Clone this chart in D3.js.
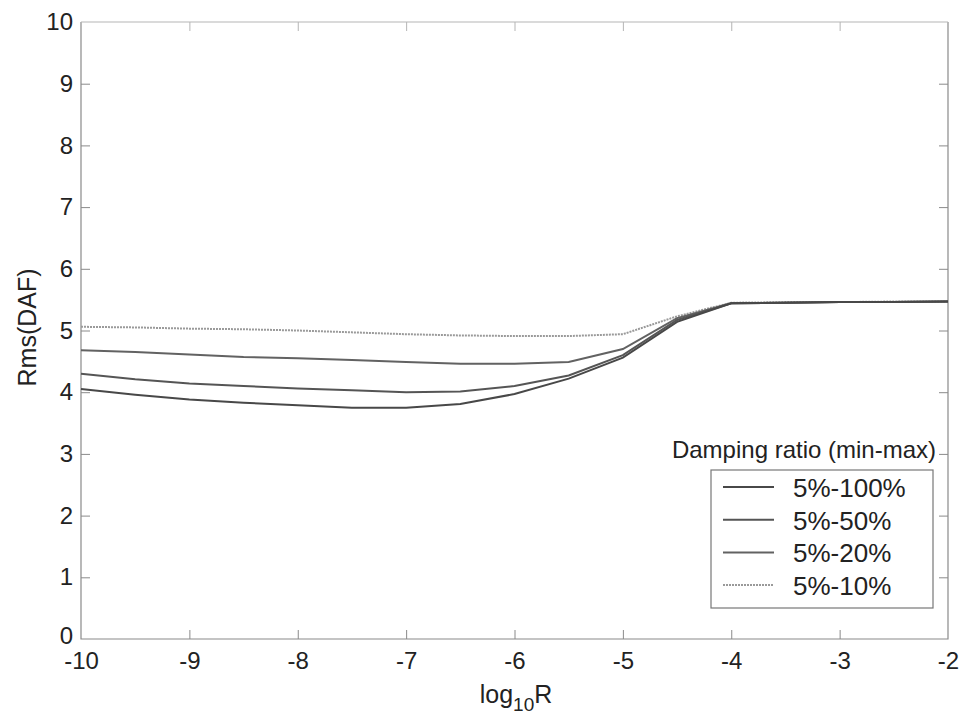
<!DOCTYPE html>
<html>
<head>
<meta charset="utf-8">
<script src="https://cdn.jsdelivr.net/npm/d3@7/dist/d3.min.js"></script>
<style>
  body { margin: 0; background: #fff; }
  text { font-family: "Liberation Sans", Arial, sans-serif; fill: #222; }
</style>
</head>
<body>
<script>
// log10 R sample points
var logR = [-10, -9.5, -9, -8.5, -8, -7.5, -7, -6.5, -6, -5.5, -5, -4.5, -4, -3.5, -3, -2.5, -2]

// Rms(DAF) for each damping ratio range
var s100 = [4.05, 3.96, 3.88, 3.83, 3.79, 3.75, 3.75, 3.81, 3.97, 4.22, 4.56, 5.14, 5.44, 5.45, 5.46, 5.46, 5.47]
var s50  = [4.30, 4.21, 4.14, 4.10, 4.06, 4.03, 4.00, 4.01, 4.10, 4.27, 4.60, 5.17, 5.44, 5.45, 5.46, 5.46, 5.47]
var s20  = [4.68, 4.65, 4.61, 4.57, 4.55, 4.52, 4.49, 4.46, 4.46, 4.49, 4.70, 5.20, 5.44, 5.45, 5.46, 5.46, 5.47]
var s10  = [5.06, 5.05, 5.03, 5.02, 5.00, 4.97, 4.94, 4.92, 4.91, 4.91, 4.94, 5.23, 5.45, 5.46, 5.46, 5.47, 5.47]

var seriesNames = ["5%-100%", "5%-50%", "5%-20%", "5%-10%"]
var xTicks = [-10, -9, -8, -7, -6, -5, -4, -3, -2]
var yTicks = [0, 1, 2, 3, 4, 5, 6, 7, 8, 9, 10]

var series = [
  {name: seriesNames[0], values: s100, color: "#484848", dash: null, w: 2},
  {name: seriesNames[1], values: s50, color: "#555555", dash: null, w: 2},
  {name: seriesNames[2], values: s20, color: "#626262", dash: null, w: 2},
  {name: seriesNames[3], values: s10, color: "#9a9a9a", dash: "2,1", w: 2}
]

var W = 965, H = 721
var margin = {top: 22, right: 17, bottom: 82, left: 81}

var svg = d3.select("body").append("svg")
  .attr("width", W)
  .attr("height", H)

var x = d3.scaleLinear().domain([-10, -2]).range([margin.left, W - margin.right])
var y = d3.scaleLinear().domain([0, 10]).range([H - margin.bottom, margin.top])

var axisColor = "#8a8a8a"
var tickLen = 9
var fmt = d => String(d)   // plain hyphen minus, like the original

// box: left, bottom, right darker, top faint
var x0 = x(-10), x1 = x(-2), y0 = y(0), y1 = y(10)
svg.append("path").attr("d", `M${x0},${y1}V${y0}H${x1}V${y1}`)
  .attr("fill", "none").attr("stroke", axisColor).attr("stroke-width", 1.2)
svg.append("line").attr("x1", x0).attr("x2", x1).attr("y1", y1).attr("y2", y1)
  .attr("stroke", "#b5b5b5").attr("stroke-width", 1)

// bottom & top ticks, inward
var gx = svg.append("g").attr("transform", "translate(0," + y0 + ")")
  .call(d3.axisBottom(x).tickValues(xTicks).tickSizeInner(-tickLen).tickSizeOuter(0).tickPadding(13).tickFormat(fmt))
gx.select(".domain").remove()
gx.selectAll("line").attr("stroke", axisColor)
gx.selectAll("text").attr("font-size", 24).attr("fill", "#222")

var gxt = svg.append("g").attr("transform", "translate(0," + y1 + ")")
  .call(d3.axisTop(x).tickValues(xTicks).tickSizeInner(-tickLen).tickSizeOuter(0).tickFormat(""))
gxt.select(".domain").remove()
gxt.selectAll("line").attr("stroke", "#b5b5b5")

var gy = svg.append("g").attr("transform", "translate(" + x0 + ",0)")
  .call(d3.axisLeft(y).tickValues(yTicks).tickSizeInner(-tickLen).tickSizeOuter(0).tickPadding(8).tickFormat(fmt))
gy.select(".domain").remove()
gy.selectAll("line").attr("stroke", axisColor)
gy.selectAll("text").attr("font-size", 24).attr("fill", "#222")
// the 0 label sits a touch higher so it clears the -10 below it
gy.selectAll(".tick").filter(d => d === 0).select("text").attr("dy", "0.2em")

var gyr = svg.append("g").attr("transform", "translate(" + x1 + ",0)")
  .call(d3.axisRight(y).tickValues(yTicks).tickSizeInner(-tickLen).tickSizeOuter(0).tickFormat(""))
gyr.select(".domain").remove()
gyr.selectAll("line").attr("stroke", axisColor)

// no tick marks on the corners
gx.selectAll(".tick").filter(d => d === -10 || d === -2).select("line").remove()
gxt.selectAll(".tick").filter(d => d === -10 || d === -2).select("line").remove()
gy.selectAll(".tick").filter(d => d === 0 || d === 10).select("line").remove()
gyr.selectAll(".tick").filter(d => d === 0 || d === 10).select("line").remove()

// lines
var line = d3.line()
  .x((d, i) => x(logR[i]))
  .y(d => y(d))

series.slice().reverse().forEach(function(s) {
  svg.append("path")
    .datum(s.values)
    .attr("d", line)
    .attr("fill", "none")
    .attr("stroke", s.color)
    .attr("stroke-width", s.w)
    .attr("stroke-dasharray", s.dash)
})

// axis labels
var xl = svg.append("text")
  .attr("x", 516).attr("y", 703)
  .attr("text-anchor", "middle")
  .attr("font-size", 25)
xl.append("tspan").text("log")
xl.append("tspan").attr("font-size", 19).attr("dy", 8).text("10")
xl.append("tspan").attr("dy", -8).text("R")

svg.append("text")
  .attr("transform", "translate(36," + y(5.05) + ") rotate(-90)")
  .attr("text-anchor", "middle")
  .attr("font-size", 25)
  .text("Rms(DAF)")

// legend
svg.append("text")
  .attr("x", 936).attr("y", 458)
  .attr("text-anchor", "end")
  .attr("font-size", 24)
  .text("Damping ratio (min-max)")

var lg = svg.append("g").attr("transform", "translate(711,470)")
lg.append("rect")
  .attr("width", 222).attr("height", 138)
  .attr("fill", "#fff").attr("stroke", "#777").attr("stroke-width", 1.2)

series.forEach(function(s, i) {
  var yy = 17 + i * 32.7
  lg.append("line")
    .attr("x1", 12).attr("x2", 63)
    .attr("y1", yy).attr("y2", yy)
    .attr("stroke", s.color)
    .attr("stroke-width", s.w)
    .attr("stroke-dasharray", s.dash)
  lg.append("text")
    .attr("x", 82).attr("y", yy + 10)
    .attr("font-size", 26)
    .text(s.name)
})
</script>
</body>
</html>
